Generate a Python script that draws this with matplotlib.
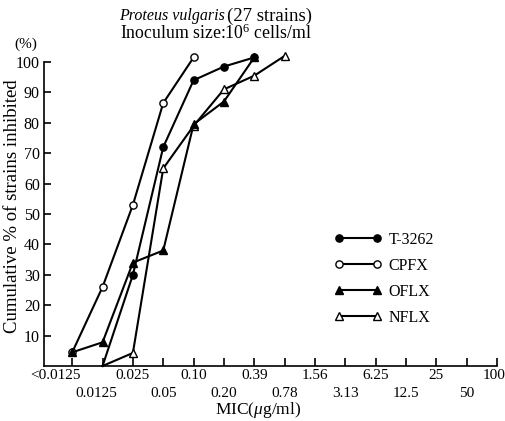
import matplotlib

matplotlib.use("Agg")

import matplotlib.pyplot as plt
import matplotlib.transforms as mtransforms
from matplotlib.lines import Line2D

plt.rcParams["font.family"] = ["Liberation Serif", "DejaVu Serif"]
plt.rcParams["mathtext.fontset"] = "custom"
plt.rcParams["mathtext.rm"] = "Liberation Serif"
plt.rcParams["mathtext.it"] = "Liberation Serif:italic"

# MIC classes (categorical, evenly spaced on the axis)
mic_labels = ["<0.0125", "0.0125", "0.025", "0.05", "0.10", "0.20", "0.39",
              "0.78", "1.56", "3.13", "6.25", "12.5", "25", "50", "100"]

# cumulative % of strains inhibited
t3262_idx = [1, 2, 3, 4, 5, 6]
t3262_pct = [0, 30, 72, 94, 98.5, 101.5]

cpfx_idx = [0, 1, 2, 3, 4]
cpfx_pct = [4.5, 26, 53, 86.5, 101.5]

oflx_idx = [0, 1, 2, 3, 4, 5, 6]
oflx_pct = [4.5, 7.8, 34, 38, 79.5, 87, 101.5]

nflx_idx = [1, 2, 3, 4, 5, 6, 7]
nflx_pct = [0, 4.3, 65, 79, 91, 95.5, 102]

y_ticks = [10, 20, 30, 40, 50, 60, 70, 80, 90, 100]

INK = "black"
W, H = 506, 421

fig = plt.figure(figsize=(W / 100, H / 100), dpi=100)
ax = fig.add_axes([44 / W, 1 - 366 / H, (497 - 44) / W, (366 - 62) / H])

style = dict(color=INK, linewidth=1.5, markersize=5.2, clip_on=False)


def _skip_zero(values):
    # the 0 % starting point is drawn as a bare line end, no marker
    return [i for i, v in enumerate(values) if v > 0]


ax.plot(cpfx_idx, cpfx_pct, marker="o", markerfacecolor="white",
        markevery=_skip_zero(cpfx_pct), zorder=3, **style)
ax.plot(nflx_idx, nflx_pct, marker="^", markerfacecolor="white",
        markevery=_skip_zero(nflx_pct), zorder=3, **style)
ax.plot(oflx_idx, oflx_pct, marker="^", markerfacecolor=INK,
        markevery=_skip_zero(oflx_pct), zorder=4, **style)
ax.plot(t3262_idx, t3262_pct, marker="o", markerfacecolor=INK,
        markevery=_skip_zero(t3262_pct), zorder=4, **style)

ax.set_xlim(-0.93, len(mic_labels) - 1)
ax.set_ylim(0, 100)
for side in ("top", "right"):
    ax.spines[side].set_visible(False)
for side in ("left", "bottom"):
    ax.spines[side].set_linewidth(1.2)

ax.set_yticks(y_ticks)
ax.set_yticklabels([str(v) for v in y_ticks], fontsize=11.5)
ax.tick_params(axis="y", direction="in", length=5, width=1.2, pad=3)

ax.set_xticks(range(len(mic_labels)))
ax.set_xticklabels([])
ax.tick_params(axis="x", direction="in", length=6, width=1.2)

# two staggered rows of MIC labels
trans = mtransforms.blended_transform_factory(ax.transData, ax.transAxes)
for i, lab in enumerate(mic_labels):
    if i == 0:
        x, y, ha = i + 0.28, -0.03, "right"
    elif i == len(mic_labels) - 1:
        x, y, ha = i - 0.1, -0.03, "center"
    elif i % 2 == 0:
        x, y, ha = i, -0.03, "center"
    else:
        x, y, ha = (i - 0.2 if i == 1 else i), -0.089, "center"
    ax.text(x, y, lab, transform=trans, ha=ha, va="center", fontsize=11)

fig.text(258 / W, 1 - 410 / H, r"MIC($\mu$g/ml)", ha="center", va="center",
         fontsize=12.5)
fig.text(13 / W, 1 - 206 / H, "Cumulative % of strains inhibited",
         rotation=90, ha="center", va="center", fontsize=13.5)
fig.text(26 / W, 1 - 44 / H, "(%)", ha="center", va="center", fontsize=11)

fig.text(225 / W, 1 - 16 / H, "Proteus vulgaris", style="italic",
         ha="right", va="center", fontsize=11.5)
fig.text(227 / W, 1 - 16 / H, "(27 strains)", ha="left", va="center",
         fontsize=13.5)
fig.text(120 / W, 1 - 33 / H, r"Inoculum size:10$^6$ cells/ml", ha="left",
         va="center", fontsize=12.8)

handles = [
    Line2D([], [], color=INK, linewidth=1.5, marker="o", markersize=5.2,
           markerfacecolor=INK, label="T-3262"),
    Line2D([], [], color=INK, linewidth=1.5, marker="o", markersize=5.2,
           markerfacecolor="white", label="CPFX"),
    Line2D([], [], color=INK, linewidth=1.5, marker="^", markersize=5.2,
           markerfacecolor=INK, label="OFLX"),
    Line2D([], [], color=INK, linewidth=1.5, marker="^", markersize=5.2,
           markerfacecolor="white", label="NFLX"),
]
fig.legend(handles=handles, loc="upper left",
           bbox_to_anchor=(334 / W, 1 - 232 / H), frameon=False, numpoints=2,
           fontsize=11.5, handlelength=3.0, handletextpad=0.4,
           labelspacing=0.62, borderaxespad=0, borderpad=0)

fig.savefig("out.png", dpi=100)
